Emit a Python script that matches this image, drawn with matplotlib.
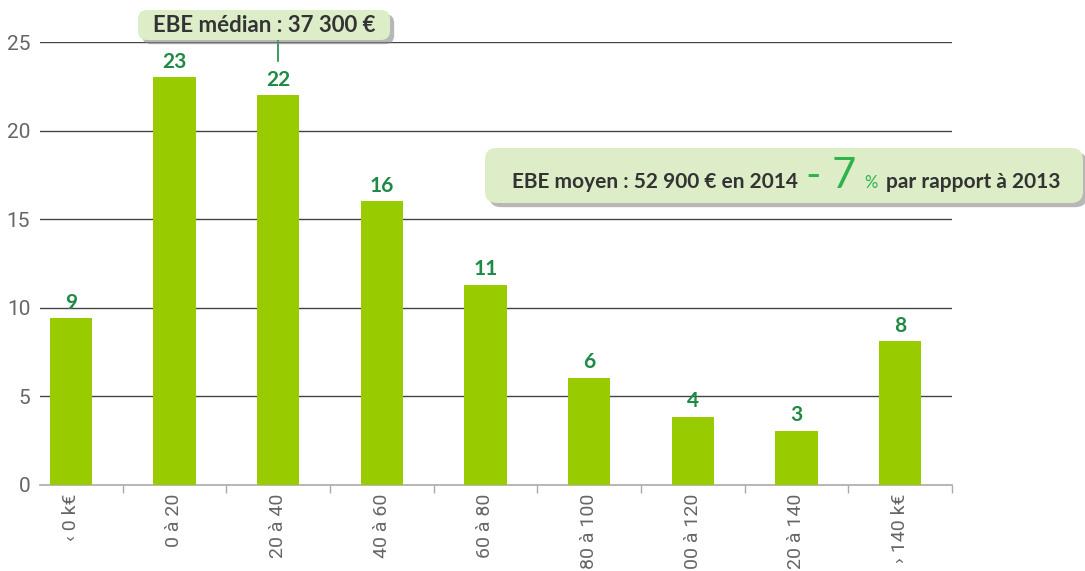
import matplotlib.pyplot as plt
import matplotlib.patheffects as pe
from matplotlib.patches import FancyBboxPatch
from matplotlib.transforms import IdentityTransform
from matplotlib.offsetbox import TextArea, HPacker, AnnotationBbox

# Répartition des exploitations selon l'EBE (k€)
categories = ['‹ 0 k€', '0 à 20', '20 à 40', '40 à 60', '60 à 80',
              '80 à 100', '100 à 120', '120 à 140', '› 140 k€']
values = [9.4, 23.0, 22.0, 16.0, 11.3, 6.05, 3.85, 3.05, 8.1]
labels = ['9', '23', '22', '16', '11', '6', '4', '3', '8']
median_text = 'EBE médian : 37 300 €'
mean_parts = ['EBE moyen : 52 900 € en 2014', '- 7', '%', 'par rapport à 2013']

plt.rcParams['font.family'] = ['Lato', 'DejaVu Sans']

bar_col = '#99cc00'
lab_col = '#1e8a44'
dark = '#333333'
light = ['Roboto', 'DejaVu Sans']

fig = plt.figure(figsize=(10.85, 5.71), dpi=100)
ax = fig.add_axes([40 / 1085, 86 / 571, 912 / 1085, 443 / 571])

x = list(range(len(categories)))
ax.bar(x, values, width=0.41, color=bar_col, zorder=3)
for xi, v, l in zip(x, values, labels):
    ax.annotate(l, (xi, v), xytext=(0, 4), textcoords='offset points',
                ha='center', va='bottom', fontsize=15, fontweight='bold',
                color=lab_col)

ax.set_xlim(-0.297, 8.5)
ax.set_ylim(0, 25)
ax.set_yticks([0, 5, 10, 15, 20, 25])
for y in [5, 10, 15, 20, 25]:
    ax.axhline(y, color='#444444', lw=1, zorder=1)

for s in ['top', 'right', 'left']:
    ax.spines[s].set_visible(False)
ax.spines['bottom'].set_color('#aaaaaa')
ax.spines['bottom'].set_linewidth(1.2)

ax.set_xticks(x)
ax.set_xticklabels(categories, rotation=90, va='top', ha='center')
ax.tick_params(axis='x', which='major', length=0, pad=6, labelsize=14,
               labelcolor='#666666')
ax.set_xticks([i + 0.5 for i in range(len(categories))], minor=True)
ax.tick_params(axis='x', which='minor', length=6, color='#aaaaaa', width=1)
ax.tick_params(axis='y', length=0, pad=7, labelsize=15, labelcolor='#666666')
for t in ax.get_xticklabels() + ax.get_yticklabels():
    t.set_family(light)

shadow = [pe.SimplePatchShadow(offset=(3, -3), shadow_rgbFace='#888888', alpha=0.6),
          pe.Normal()]


def pixel_box(x0, y0, x1, y1, r):
    # boîte arrondie en pixels (origine en bas)
    p = FancyBboxPatch((x0 + r, y0 + r), x1 - x0 - 2 * r, y1 - y0 - 2 * r,
                       boxstyle='round,pad=%d' % r, transform=IdentityTransform(),
                       facecolor='#dcedc8', edgecolor='none', zorder=10)
    p.set_path_effects(shadow)
    fig.add_artist(p)


# ligne du médian
ax.plot([2, 2], [23.9, 25.5], color=lab_col, lw=1.2, clip_on=False, zorder=4)

pixel_box(138, 531, 390, 561, 9)
fig.text(264 / 1085, 545 / 571, median_text, ha='center', va='center',
         fontsize=16, fontweight='bold', color=dark, zorder=11)

pixel_box(485, 368, 1083, 423, 12)
parts = [
    TextArea(mean_parts[0], textprops=dict(fontsize=15, fontweight='bold', color=dark)),
    TextArea(mean_parts[1], textprops=dict(fontsize=30, color='#2db34a')),
    TextArea(mean_parts[2], textprops=dict(fontsize=12, color='#2db34a')),
    TextArea(mean_parts[3], textprops=dict(fontsize=15, fontweight='bold', color=dark)),
]
pack = HPacker(children=parts, align='baseline', pad=0, sep=6)
ab = AnnotationBbox(pack, (786, 395), xycoords='figure pixels', frameon=False,
                    box_alignment=(0.5, 0.5), zorder=12)
fig.add_artist(ab)

fig.savefig('out.png', dpi=100)
